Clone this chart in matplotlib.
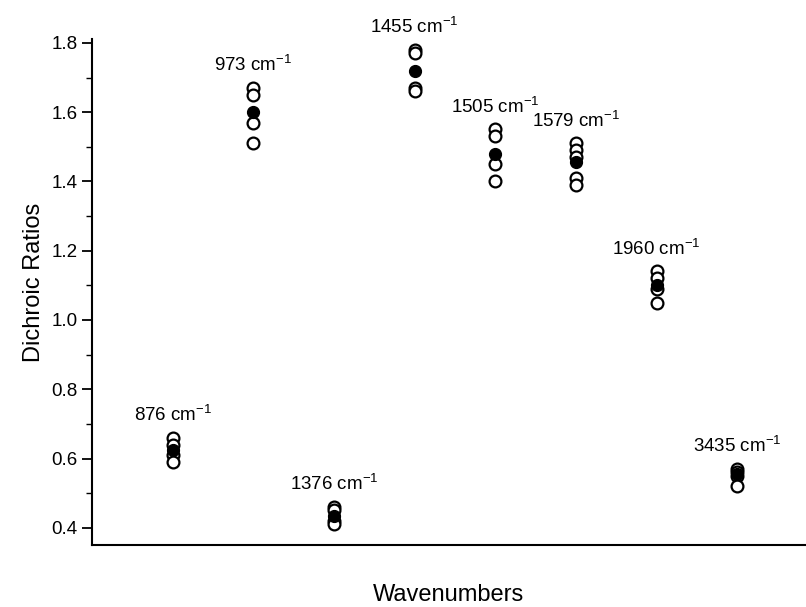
import matplotlib
matplotlib.use("Agg")
import matplotlib.pyplot as plt
from matplotlib.ticker import MultipleLocator

plt.rcParams['font.family'] = ['Liberation Sans', 'DejaVu Sans']
plt.rcParams['mathtext.default'] = 'regular'

# band positions (cm^-1) and measured dichroic ratios
bands = ['876', '973', '1376', '1455', '1505', '1579', '1960', '3435']
ratios = [
    [0.66, 0.64, 0.61, 0.59],
    [1.67, 1.65, 1.57, 1.51],
    [0.46, 0.45, 0.42, 0.41],
    [1.78, 1.77, 1.67, 1.66],
    [1.55, 1.53, 1.45, 1.40],
    [1.51, 1.49, 1.47, 1.41, 1.39],
    [1.14, 1.12, 1.09, 1.05],
    [0.57, 0.56, 0.55, 0.52],
]
means = [0.625, 1.60, 0.435, 1.72, 1.48, 1.455, 1.10, 0.555]

fig = plt.figure(figsize=(8.06, 6.07), dpi=100)
ax = fig.add_axes([0.114, 0.102, 0.886, 0.833])

for i, (band, vals) in enumerate(zip(bands, ratios)):
    x = i + 1
    ax.plot([x] * len(vals), vals, 'o', mfc='white', mec='black',
            mew=1.6, ms=8.5, ls='none')
    ax.plot(x, means[i], 'o', mfc='black', mec='black', ms=8.5, ls='none')
    ax.annotate(band + ' cm$^{-1}$', xy=(x, max(vals)), xytext=(0, 9),
                textcoords='offset points', ha='center', va='bottom',
                fontsize=13.5)

ax.set_xlim(0, 8.85)
ax.set_ylim(0.35, 1.81)
ax.yaxis.set_major_locator(MultipleLocator(0.2))
ax.yaxis.set_minor_locator(MultipleLocator(0.1))
ax.set_xticks([])
ax.tick_params(axis='y', which='major', length=7, width=1.3, labelsize=13.5)
ax.tick_params(axis='y', which='minor', length=4, width=1.0)

for side in ['top', 'right']:
    ax.spines[side].set_visible(False)
for side in ['left', 'bottom']:
    ax.spines[side].set_linewidth(1.5)

ax.set_ylabel('Dichroic Ratios', fontsize=17)
ax.yaxis.set_label_coords(-0.066, 0.52)
ax.set_xlabel('Wavenumbers', fontsize=17, labelpad=28)

fig.savefig('out.png', dpi=100)
